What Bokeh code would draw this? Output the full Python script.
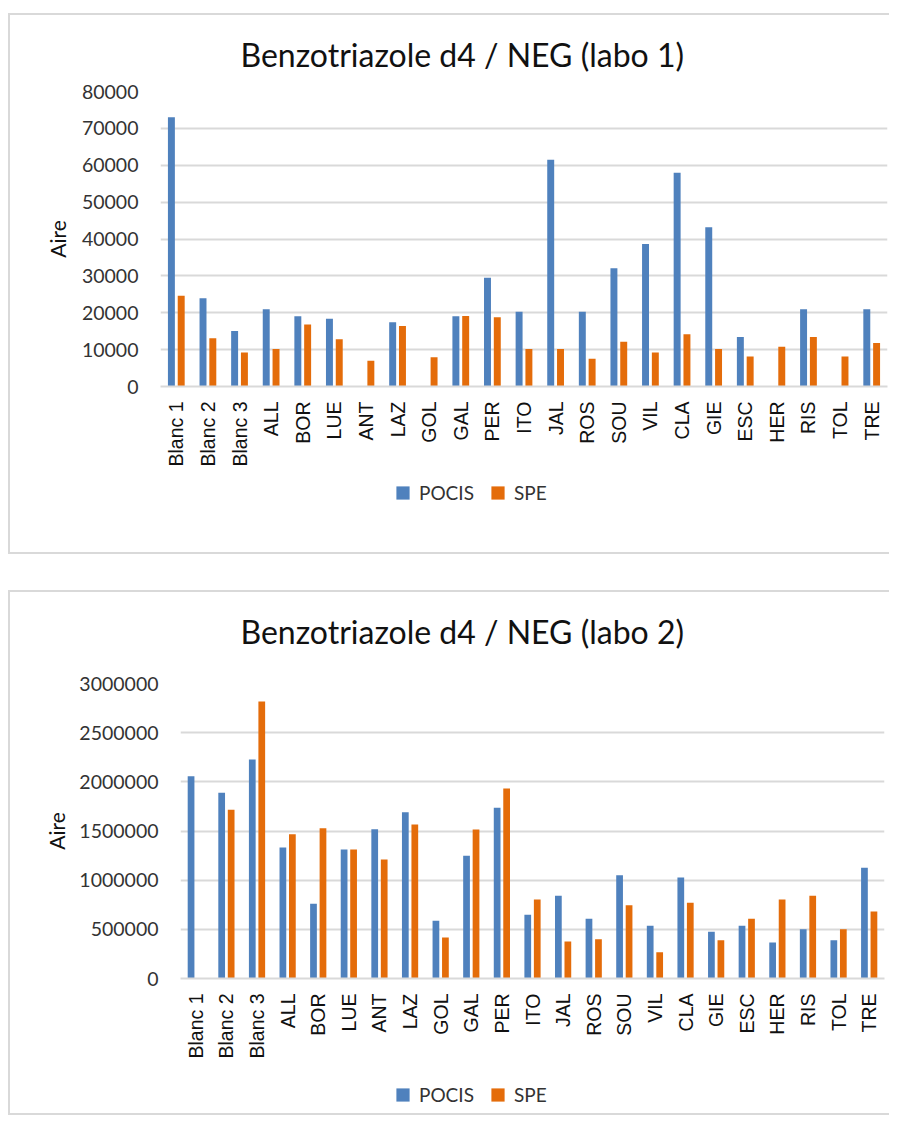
from bokeh.plotting import figure
from bokeh.layouts import column
from bokeh.models import (ColumnDataSource, FactorRange, Range1d, SingleIntervalTicker,
                          BasicTickFormatter, Legend, LegendItem, Label)
from bokeh.transform import dodge
from bokeh.embed import file_html
from bokeh.resources import INLINE
import math

categories = ["Blanc 1", "Blanc 2", "Blanc 3", "ALL", "BOR", "LUE", "ANT", "LAZ", "GOL",
              "GAL", "PER", "ITO", "JAL", "ROS", "SOU", "VIL", "CLA", "GIE", "ESC",
              "HER", "RIS", "TOL", "TRE"]

labo1_pocis = [73000, 23900, 15050, 20950, 19050, 18400, 0, 17400, 0,
               19050, 29500, 20300, 61500, 20300, 32100, 38640, 57960, 43180, 13420,
               0, 20950, 0, 20950]
labo1_spe = [24600, 13060, 9250, 10150, 16780, 12800, 7000, 16400, 7900,
             19100, 18800, 10150, 10150, 7530, 12150, 9250, 14150, 10150, 8160,
             10800, 13420, 8160, 11780]

labo2_pocis = [2057000, 1888000, 2227000, 1332000, 760000, 1312000, 1518000, 1691000, 587000,
               1248000, 1736000, 648000, 841000, 607000, 1050000, 536000, 1027000, 475000, 536000,
               366000, 501000, 389000, 1126000]
labo2_spe = [0, 1715000, 2817000, 1467000, 1528000, 1312000, 1210000, 1566000, 417000,
             1515000, 1932000, 803000, 376000, 400000, 745000, 268000, 770000, 389000, 607000,
             803000, 841000, 501000, 681000]

titles = ["Benzotriazole d4 / NEG (labo 1)", "Benzotriazole d4 / NEG (labo 2)"]
series_names = ["POCIS", "SPE"]
y_max = [80000, 3000000]
y_step = [10000, 500000]

BLUE = "#4F81BD"
ORANGE = "#E46C0A"
GRID = "#D9D9D9"
W = 879
BORDER = {"border-left": "2px solid #D9D9D9", "border-top": "2px solid #D9D9D9",
          "border-bottom": "2px solid #D9D9D9"}


def strip(height, min_left, min_right):
    fw = W - min_left - min_right
    s = figure(x_range=Range1d(0, fw), y_range=Range1d(0, height), width=W, height=height,
               output_backend="svg", toolbar_location=None,
               min_border_left=min_left, min_border_right=min_right,
               min_border_top=0, min_border_bottom=0)
    s.axis.visible = False
    s.grid.visible = False
    s.outline_line_color = None
    return s


def make_chart(title, pocis, spe, ymax, ystep, min_left, min_right, min_bottom, title_h,
               title_x, title_y, label_standoff, leg_h, legend_x, legend_y, top_margin):
    # title strip
    ts = strip(title_h, min_left, min_right)
    ts.add_layout(Label(x=title_x, y=title_y, text=title, text_font="Lato",
                        text_font_size="32px", text_color="#111111",
                        text_align="left", text_baseline="alphabetic"))

    # main chart
    src = ColumnDataSource(dict(cat=categories, pocis=pocis, spe=spe))
    p = figure(x_range=FactorRange(*categories, range_padding=0), y_range=Range1d(0, ymax),
               width=W, height=12 + 295 + min_bottom, output_backend="svg",
               toolbar_location=None,
               min_border_left=min_left, min_border_right=min_right,
               min_border_top=12, min_border_bottom=min_bottom)
    p.vbar(x=dodge("cat", -0.155, range=p.x_range), top="pocis", width=0.22, source=src,
           fill_color=BLUE, line_color=None)
    p.vbar(x=dodge("cat", 0.155, range=p.x_range), top="spe", width=0.22, source=src,
           fill_color=ORANGE, line_color=None)

    p.outline_line_color = None
    p.xgrid.grid_line_color = None
    p.ygrid.grid_line_color = GRID
    p.ygrid.grid_line_width = 2
    p.yaxis.ticker = SingleIntervalTicker(interval=ystep)
    p.yaxis.formatter = BasicTickFormatter(use_scientific=False)
    p.yaxis.axis_line_color = None
    p.yaxis.major_tick_line_color = None
    p.yaxis.minor_tick_line_color = None
    p.yaxis.major_tick_out = 0
    p.yaxis.major_label_standoff = 18
    p.yaxis.major_label_text_font = "Lato"
    p.yaxis.major_label_text_font_size = "19.5px"
    p.yaxis.major_label_text_color = "#333333"
    p.yaxis.axis_label = "Aire"
    p.yaxis.axis_label_text_font = "Lato"
    p.yaxis.axis_label_text_font_size = "21px"
    p.yaxis.axis_label_text_font_style = "normal"
    p.yaxis.axis_label_text_color = "#111111"
    p.yaxis.axis_label_standoff = label_standoff

    p.xaxis.axis_line_color = GRID
    p.xaxis.axis_line_width = 2
    p.xaxis.major_tick_line_color = None
    p.xaxis.minor_tick_line_color = None
    p.xaxis.major_tick_out = 0
    p.xaxis.major_label_standoff = 15
    p.xaxis.major_label_orientation = math.pi / 2
    p.xaxis.major_label_text_font = "Liberation Sans"
    p.xaxis.major_label_text_font_size = "19.5px"
    p.xaxis.major_label_text_color = "#111111"

    # legend strip (square keys)
    lg = strip(leg_h, min_left, min_right)
    key = ColumnDataSource(dict(x=[0], y=[0]))
    d1 = lg.scatter(x="x", y="y", marker="square", size=13, source=key, fill_color=BLUE,
                    line_color=None, visible=False)
    d2 = lg.scatter(x="x", y="y", marker="square", size=13, source=key, fill_color=ORANGE,
                    line_color=None, visible=False)
    legend = Legend(items=[LegendItem(label=series_names[0], renderers=[d1]),
                           LegendItem(label=series_names[1], renderers=[d2])],
                    location=(legend_x, legend_y), orientation="horizontal",
                    glyph_width=33, glyph_height=33, label_standoff=-4, spacing=7,
                    padding=0, margin=0, border_line_color=None,
                    background_fill_alpha=0,
                    label_text_font="Lato", label_text_font_size="19px",
                    label_text_color="#333333", label_height=33)
    lg.add_layout(legend, "center")

    col = column(ts, p, lg, spacing=0)
    col.styles = BORDER
    col.margin = (top_margin, 0, 0, 8)
    return col


c1 = make_chart(titles[0], labo1_pocis, labo1_spe, y_max[0], y_step[0],
                min_left=150, min_right=2, min_bottom=85, title_h=64, title_x=80, title_y=25,
                label_standoff=9, leg_h=81, legend_x=226, legend_y=43, top_margin=13)
c2 = make_chart(titles[1], labo2_pocis, labo2_spe, y_max[1], y_step[1],
                min_left=170, min_right=5, min_bottom=93, title_h=79, title_x=60, title_y=40,
                label_standoff=7, leg_h=42, legend_x=206, legend_y=2, top_margin=36)

open("out.html", "w").write(file_html([c1, c2], INLINE))
